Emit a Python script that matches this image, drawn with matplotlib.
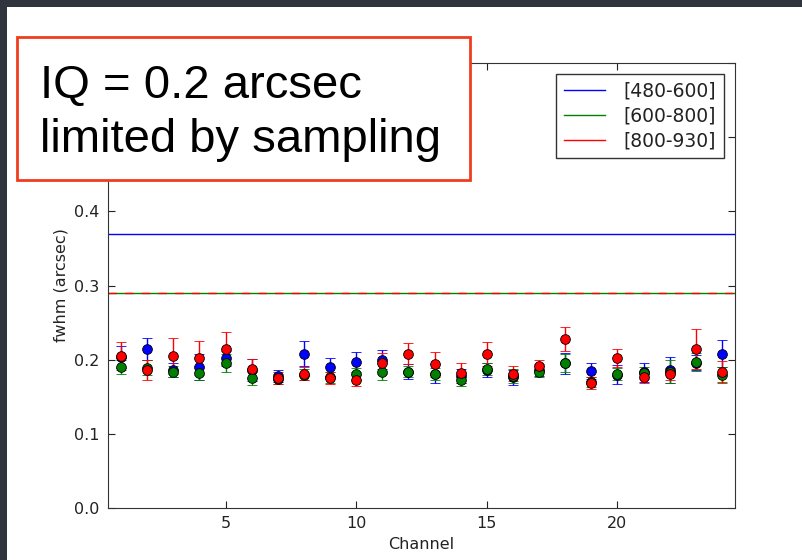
import numpy as np
import matplotlib
matplotlib.use('Agg')
import matplotlib.pyplot as plt
from matplotlib.patches import Rectangle
from matplotlib.lines import Line2D

channels = np.arange(1, 25)

# fwhm per channel (arcsec)
blue_vals = [0.204, 0.214, 0.186, 0.190, 0.202, 0.186, 0.178, 0.208, 0.190, 0.197, 0.200, 0.184,
             0.181, 0.178, 0.186, 0.176, 0.186, 0.195, 0.185, 0.180, 0.183, 0.186, 0.196, 0.208]
blue_err = [0.015, 0.015, 0.010, 0.018, 0.010, 0.015, 0.008, 0.017, 0.012, 0.014, 0.013, 0.010,
            0.013, 0.010, 0.009, 0.010, 0.008, 0.014, 0.011, 0.013, 0.013, 0.017, 0.010, 0.018]
green_vals = [0.190, 0.189, 0.184, 0.182, 0.196, 0.175, 0.174, 0.180, 0.176, 0.181, 0.184, 0.184,
              0.181, 0.173, 0.188, 0.178, 0.184, 0.196, 0.170, 0.181, 0.182, 0.184, 0.197, 0.180]
green_err = [0.009, 0.010, 0.008, 0.010, 0.012, 0.009, 0.007, 0.008, 0.008, 0.008, 0.012, 0.008,
             0.008, 0.009, 0.008, 0.009, 0.007, 0.012, 0.007, 0.008, 0.008, 0.015, 0.012, 0.010]
red_vals = [0.205, 0.186, 0.205, 0.202, 0.215, 0.188, 0.175, 0.181, 0.175, 0.172, 0.195, 0.208,
            0.194, 0.182, 0.208, 0.181, 0.192, 0.228, 0.168, 0.202, 0.177, 0.181, 0.214, 0.183]
red_err = [0.019, 0.013, 0.024, 0.023, 0.022, 0.013, 0.008, 0.009, 0.008, 0.008, 0.014, 0.014,
           0.017, 0.013, 0.016, 0.010, 0.007, 0.016, 0.008, 0.012, 0.008, 0.008, 0.027, 0.015]

# mean fwhm per band
band_labels = ['[480-600]', '[600-800]', '[800-930]']
band_levels = [0.37, 0.29, 0.29]
band_colors = ['blue', 'green', 'red']

yticks = [0.0, 0.1, 0.2, 0.3, 0.4, 0.5, 0.6]
# 0.5 and 0.6 sit under the annotation box
ytick_labels = ['0.0', '0.1', '0.2', '0.3', '0.4', '', '']

fig = plt.figure(figsize=(8.03, 5.60), dpi=100)
fig.patch.set_facecolor('white')

# dark frame of the slide at top and left
fig.patches.append(Rectangle((0, 1 - 7 / 560), 1, 7 / 560, transform=fig.transFigure,
                             facecolor='#30353d', edgecolor='none', zorder=0))
fig.patches.append(Rectangle((0, 0), 7 / 803, 1, transform=fig.transFigure,
                             facecolor='#30353d', edgecolor='none', zorder=0))

ax = fig.add_axes([108 / 803, 1 - 508 / 560, 627 / 803, 445 / 560])

# green and red levels coincide, red drawn dashed on top so both show
ax.axhline(band_levels[0], color='blue', lw=1)
ax.axhline(band_levels[1], color='green', lw=1)
ax.axhline(band_levels[2], color='red', lw=1, ls=(0, (6, 6)))

for vals, err, c in [(blue_vals, blue_err, 'blue'), (green_vals, green_err, 'green'),
                     (red_vals, red_err, 'red')]:
    ax.errorbar(channels, vals, yerr=err, fmt='o', color=c, mfc=c, mec='black',
                mew=0.6, ms=7, ecolor=c, elinewidth=1, capsize=3.5, capthick=1)

ax.set_xlim(0.5, 24.5)
ax.set_ylim(0, 0.6)
ax.set_xticks([5, 10, 15, 20])
ax.set_yticks(yticks)
ax.set_yticklabels(ytick_labels)
ax.tick_params(direction='in', top=True, right=True, labelsize=11.5, colors='#222222',
               length=5, pad=6)
ax.set_xlabel('Channel', fontsize=11.5, color='#222222')
ax.set_ylabel('fwhm (arcsec)', fontsize=11.5, color='#222222')
for s in ax.spines.values():
    s.set_color('#333333')

handles = [Line2D([], [], color=c, lw=1) for c in band_colors]
leg = ax.legend(handles, band_labels, loc='upper right', fontsize=13.5, fancybox=False,
                framealpha=1, edgecolor='#333333', handlelength=2.2, handletextpad=1.0,
                borderaxespad=0.6, labelspacing=0.32, borderpad=0.4)
for t in leg.get_texts():
    t.set_color('#222222')

# annotation box
fig.patches.append(Rectangle((17 / 803, 1 - 180 / 560), 453 / 803, 143 / 560,
                             transform=fig.transFigure, facecolor='white',
                             edgecolor='#f03c1e', lw=2, zorder=5))
fig.text(40 / 803, 1 - 152 / 560, 'IQ = 0.2 arcsec\nlimited by sampling',
         fontsize=34, family='Liberation Sans', color='black', va='baseline',
         ha='left', linespacing=1.28, zorder=6)

fig.savefig('out.png', dpi=100)
